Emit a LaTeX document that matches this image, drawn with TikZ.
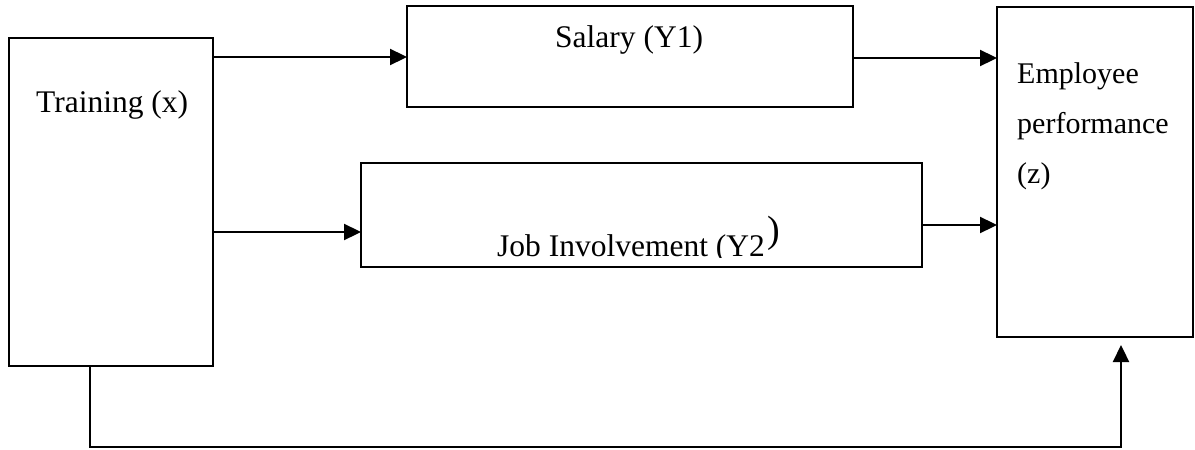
\documentclass[tikz,border=0pt]{standalone}
\usepackage{fontspec}
\setmainfont{Liberation Serif}
\usetikzlibrary{arrows.meta}
\begin{document}
\begin{tikzpicture}[x=1pt,y=-1pt,
  box/.style={draw, line width=2.3pt, anchor=north west, inner sep=0pt, outer sep=0pt},
  lbl/.style={anchor=base west, inner sep=0pt, font=\fontsize{31.5}{36}\selectfont},
  elbl/.style={anchor=base west, inner sep=0pt, font=\fontsize{30}{36}\selectfont},
  arr/.style={line width=2.3pt, -{Triangle[length=17pt,width=16pt]}}]
\useasboundingbox (0,0) rectangle (1195,450);

% boxes
\node[box, minimum width=204pt, minimum height=328pt] (train) at (9,38) {};
\node[box, minimum width=446pt, minimum height=101pt] (sal) at (407,6) {};
\node[box, minimum width=561pt, minimum height=104pt] (job) at (361,163) {};
\node[box, minimum width=196pt, minimum height=330pt] (emp) at (997,7) {};

% labels
\node[lbl] (ltrain) at (36,112) {Training (x)};
\node[lbl] (lsal) at (555,47) {Salary (Y1)};
\begin{scope}
  \clip (480,200) rectangle (800,257.5);
  \node[lbl] (ljob) at (497,256) {Job Involvement (Y2};
\end{scope}
\node[anchor=base west, inner sep=0pt, font=\fontsize{38}{40}\selectfont,
      xshift=2pt, yshift=14pt] (ljobp) at (ljob.base east) {)};
\node[elbl] (lemp1) at (1017,83) {Employee};
\node[elbl] (lemp2) at (1017,133) {performance};
\node[elbl] (lemp3) at (1017,183) {(z)};

% connector heights and corners
\coordinate (r1) at (0,57);
\coordinate (r2) at (0,58);
\coordinate (r3) at (0,232);
\coordinate (r4) at (0,225);
\coordinate (d0) at (90,366);
\coordinate (d1) at (90,447);
\coordinate (d2) at (1121,447);
\coordinate (d3) at (1121,345);

% connectors
\draw[arr] (train.east |- r1) -- (sal.west |- r1);
\draw[arr] (sal.east |- r2) -- (emp.west |- r2);
\draw[arr] (train.east |- r3) -- (job.west |- r3);
\draw[arr] (job.east |- r4) -- (emp.west |- r4);
\draw[arr] (d0) -- (d1) -- (d2) -- (d3);
\end{tikzpicture}
\end{document}
